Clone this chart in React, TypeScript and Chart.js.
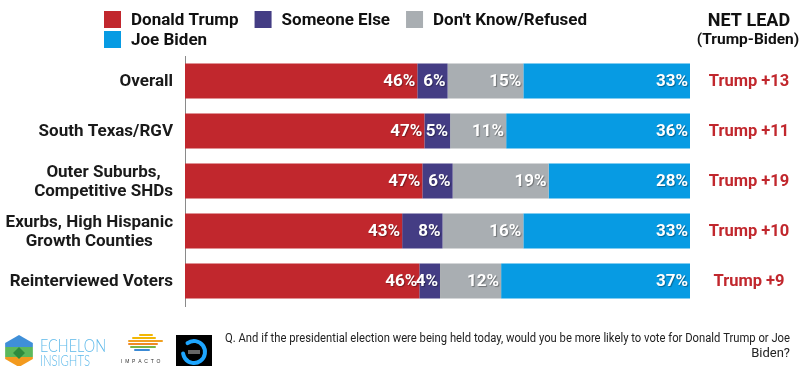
import React, { useEffect, useRef } from 'react';
import { Chart, registerables } from 'chart.js';

Chart.register(...registerables);

// ---- data ----
const categories: (string | string[])[] = [
  'Overall',
  'South Texas/RGV',
  ['Outer Suburbs,', 'Competitive SHDs'],
  ['Exurbs, High Hispanic', 'Growth Counties'],
  'Reinterviewed Voters',
];
const seriesNames = ['Donald Trump', 'Someone Else', "Don't Know/Refused", 'Joe Biden'];
const trump = [46, 47.4, 47, 43, 46.4];
const someoneElse = [6, 5.1, 6, 8, 4.1];
const dontKnow = [15, 11.1, 19, 16, 12.1];
const biden = [33, 36.4, 28, 33, 37.4];
const netLead = ['Trump +13', 'Trump +11', 'Trump +19', 'Trump +10', 'Trump +9'];
const seriesColors = ['#c1272d', '#443d84', '#a9aeb2', '#079be3'];
const netLeadTitle = ['NET LEAD', '(Trump-Biden)'];
const questionLines = [
  'Q. And if the presidential election were being held today, would you be more likely to vote for Donald Trump or Joe',
  'Biden?',
];

const FONT = 'Roboto, "Open Sans", sans-serif';

function drawLogos(ctx: CanvasRenderingContext2D) {
  ctx.save();
  // Echelon hexagon icon
  const cx = 19, cy = 351, r = 16;
  ctx.beginPath();
  for (let k = 0; k < 6; k++) {
    const a = Math.PI / 2 + (k * Math.PI) / 3;
    const px = cx + r * Math.cos(a);
    const py = cy - r * Math.sin(a);
    if (k === 0) ctx.moveTo(px, py); else ctx.lineTo(px, py);
  }
  ctx.closePath();
  ctx.save();
  ctx.clip();
  ctx.fillStyle = '#3f8fd8';
  ctx.fillRect(cx - r, cy - r, 2 * r, 12);
  ctx.fillStyle = '#5cb85c';
  ctx.fillRect(cx - r, cy - r + 12, 2 * r, 10);
  ctx.fillStyle = '#f39a1e';
  ctx.fillRect(cx - r, cy - r + 22, 2 * r, 12);
  ctx.fillStyle = '#2e8b3e';
  ctx.beginPath();
  ctx.moveTo(cx, cy - 4); ctx.lineTo(cx + 6, cy + 2); ctx.lineTo(cx, cy + 8); ctx.lineTo(cx - 6, cy + 2);
  ctx.closePath(); ctx.fill();
  ctx.restore();

  ctx.fillStyle = '#5db9ea';
  ctx.textAlign = 'left';
  ctx.textBaseline = 'alphabetic';
  ctx.font = '300 18px Lato, "Open Sans", sans-serif';
  ctx.fillText('ECHELON', 40, 352, 66);
  ctx.font = '300 15px Lato, "Open Sans", sans-serif';
  ctx.fillText('INSIGHTS', 40, 366, 50);

  // Impacto stripes
  const stripes: [number, number, number, string][] = [
    [140, 335, 12, '#f2b705'],
    [133, 338, 22, '#f2b705'],
    [129, 341, 33, '#f0a020'],
    [129, 344, 28, '#f08a24'],
    [131, 347, 24, '#7bb342'],
    [135, 350, 14, '#3a8ad5'],
  ];
  ctx.lineCap = 'round';
  ctx.lineWidth = 2;
  stripes.forEach(([x, y, w, c]) => {
    ctx.strokeStyle = c;
    ctx.beginPath(); ctx.moveTo(x, y); ctx.lineTo(x + w, y); ctx.stroke();
  });
  ctx.fillStyle = '#333';
  ctx.font = '5px sans-serif';
  ctx.textAlign = 'left';
  ctx.fillText('I  M  P  A  C  T  O', 121, 363, 40);

  // black square logo
  ctx.fillStyle = '#000';
  ctx.fillRect(176, 335, 36, 31);
  ctx.strokeStyle = '#1ea6ff';
  ctx.lineWidth = 4;
  ctx.beginPath();
  ctx.arc(194, 352, 11, Math.PI * 1.3, Math.PI * 1.05 + Math.PI * 2 - 0.3);
  ctx.stroke();
  ctx.fillStyle = '#666';
  ctx.fillRect(188, 350, 12, 4);
  ctx.restore();
}

const overlayPlugin = {
  id: 'overlay',
  afterDatasetsDraw(chart: any) {
    const ctx: CanvasRenderingContext2D = chart.ctx;
    chart.data.datasets.forEach((ds: any, di: number) => {
      const meta = chart.getDatasetMeta(di);
      meta.data.forEach((el: any, i: number) => {
        const v = ds.data[i] as number;
        ctx.save();
        ctx.font = `bold 17px ${FONT}`;
        ctx.fillStyle = '#ffffff';
        ctx.textAlign = 'right';
        ctx.textBaseline = 'middle';
        ctx.shadowColor = 'rgba(0,0,0,0.35)';
        ctx.shadowOffsetX = 1;
        ctx.shadowOffsetY = 1;
        ctx.shadowBlur = 1;
        ctx.fillText(Math.round(v) + '%', el.x - 2, el.y + 1);
        ctx.restore();
      });
    });
  },
  afterDraw(chart: any) {
    const ctx: CanvasRenderingContext2D = chart.ctx;
    const yScale = chart.scales.y;
    ctx.save();

    // category labels (centered lines, right-aligned block)
    ctx.font = `bold 17px ${FONT}`;
    ctx.fillStyle = '#1a1a1a';
    ctx.textBaseline = 'middle';
    ctx.textAlign = 'center';
    const labelRight = yScale.right - 12;
    categories.forEach((lab, i) => {
      const lines = Array.isArray(lab) ? lab : [lab];
      const maxW = Math.max(...lines.map((l) => ctx.measureText(l).width));
      const cxl = labelRight - maxW / 2;
      const yc = yScale.getPixelForValue(i);
      const lh = 19;
      lines.forEach((l, k) => {
        ctx.fillText(l, cxl, yc + 1 + (k - (lines.length - 1) / 2) * lh);
      });
    });

    // net lead labels
    const nlX = chart.chartArea.right + 59;
    ctx.fillStyle = '#c1272d';
    ctx.font = `bold 16.5px ${FONT}`;
    netLead.forEach((t, i) => {
      ctx.fillText(t, nlX, yScale.getPixelForValue(i) + 1);
    });

    // net lead header
    ctx.fillStyle = '#111';
    ctx.font = `bold 18px ${FONT}`;
    ctx.fillText(netLeadTitle[0], nlX, 21);
    ctx.font = `bold 15.5px ${FONT}`;
    ctx.fillText(netLeadTitle[1], nlX - 1, 40);

    // legend
    ctx.font = `bold 17px ${FONT}`;
    ctx.textAlign = 'left';
    let lx = 104;
    chart.data.datasets.forEach((ds: any, di: number) => {
      let ly = 20;
      if (di === 3) { lx = 104; ly = 40; }
      ctx.fillStyle = ds.backgroundColor;
      ctx.fillRect(lx, ly - 9, 17, 17);
      ctx.fillStyle = '#111';
      ctx.fillText(ds.label, lx + 27, ly + 1);
      lx = lx + 27 + ctx.measureText(ds.label).width + 16;
    });

    // question text
    ctx.fillStyle = '#222';
    ctx.font = '13px "Liberation Sans Narrow", "Roboto", sans-serif';
    ctx.textAlign = 'right';
    ctx.fillText(questionLines[0], 790, 339, 565);
    ctx.fillText(questionLines[1], 790, 354);

    drawLogos(ctx);
    ctx.restore();
  },
};

export default function App() {
  const ref = useRef<HTMLCanvasElement | null>(null);
  useEffect(() => {
    document.body.style.margin = '0';
    if (!ref.current) return;
    const series = [trump, someoneElse, dontKnow, biden];
    const chart = new Chart(ref.current, {
      type: 'bar',
      data: {
        labels: categories as any,
        datasets: series.map((d, i) => ({
          label: seriesNames[i],
          data: d,
          backgroundColor: seriesColors[i],
          borderWidth: 0,
          barPercentage: 0.7,
          categoryPercentage: 1,
        })),
      },
      options: {
        indexAxis: 'y',
        animation: false,
        responsive: false,
        devicePixelRatio: 1,
        layout: { padding: { top: 56, right: 110, bottom: 60, left: 0 } },
        plugins: { legend: { display: false }, tooltip: { enabled: false } },
        scales: {
          x: { stacked: true, min: 0, max: 100, display: false },
          y: {
            stacked: true,
            ticks: { display: false },
            grid: { drawOnChartArea: false, drawTicks: false },
            border: { display: true, color: '#8a8a8a', width: 1 },
            afterFit: (scale: any) => { scale.width = 185; },
          },
        },
      },
      plugins: [overlayPlugin],
    });
    return () => chart.destroy();
  }, []);
  return (
    <div style={{ position: 'absolute', left: 0, top: 0, width: 800, height: 366, background: '#fff' }}>
      <canvas ref={ref} width={800} height={366} style={{ width: 800, height: 366, display: 'block' }} />
    </div>
  );
}
